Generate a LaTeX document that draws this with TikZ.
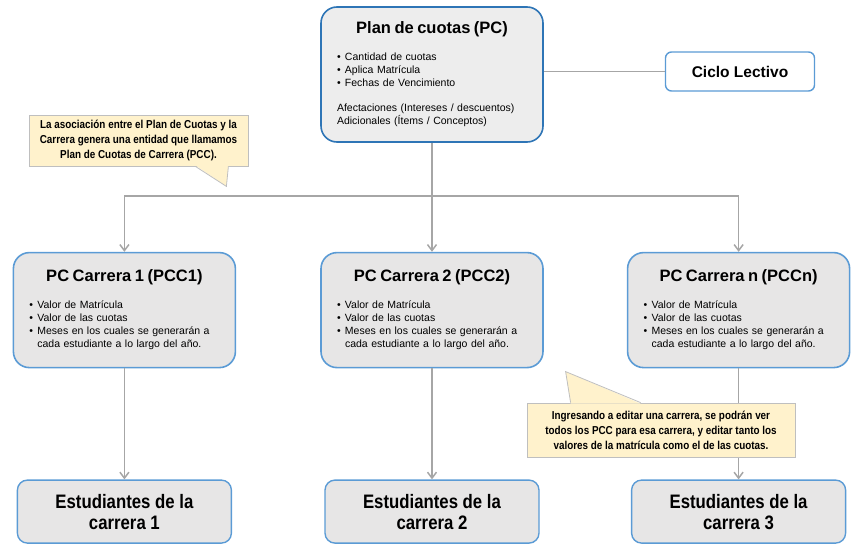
\documentclass[tikz,border=0pt]{standalone}
\usepackage{fontspec}
\setmainfont{Liberation Sans}
\newfontfamily\narrowsf[FakeStretch=0.86]{Liberation Sans}
\usepackage{tikz}
\usetikzlibrary{arrows.meta,positioning}
\definecolor{CuotaBlue}{HTML}{2E75B6}
\definecolor{CuotaLine}{HTML}{5B9BD5}
\definecolor{CuotaFill}{HTML}{EDEDED}
\definecolor{CarreraFill}{HTML}{E7E6E6}
\definecolor{NoteFill}{HTML}{FFF2CC}
\definecolor{NoteLine}{HTML}{BFBFBF}
\definecolor{LinkGray}{HTML}{A6A6A6}
\newcommand{\boxtitle}[1]{{\centering\noindent\fontsize{16.5}{19}\selectfont\bfseries #1\par}\vspace{14pt}}
\newcommand{\bitem}[1]{\par\hangindent=8pt\hangafter=1\noindent\makebox[8pt][l]{\textbullet}#1}
\newcommand{\carreraitems}{\bitem{Valor de Matrícula}\bitem{Valor de las cuotas}%
  \bitem{Meses en los cuales se generarán a\newline cada estudiante a lo largo del año.}\par}
\tikzset{
  cuotabox/.style={draw=CuotaBlue,line width=1.6pt,rounded corners=16pt,fill=CuotaFill,
    text width=190pt,inner xsep=16pt,inner ysep=0pt,align=left,
    font=\fontsize{10.5}{13}\selectfont},
  carrerabox/.style={cuotabox,draw=CuotaLine,fill=CarreraFill,minimum height=115pt},
  studentbox/.style={draw=CuotaLine,line width=1.4pt,rounded corners=10pt,fill=CarreraFill,
    minimum width=214pt,minimum height=63pt,align=center,
    font=\narrowsf\bfseries\fontsize{19.5}{21}\selectfont},
  cyclebox/.style={draw=CuotaLine,line width=1.4pt,rounded corners=6pt,fill=white,
    minimum width=149pt,minimum height=39pt,font=\bfseries\fontsize{15.5}{18}\selectfont},
  notebox/.style={draw=NoteLine,line width=0.8pt,fill=NoteFill,align=center,inner sep=0pt,
    font=\narrowsf\bfseries\fontsize{11.5}{15}\selectfont},
  link/.style={-{Straight Barb[length=6pt,width=9pt]},draw=LinkGray,line width=1.5pt},
  busline/.style={draw=LinkGray,line width=1.5pt}
}

\begin{document}
\begin{tikzpicture}
  \useasboundingbox (0,0) rectangle (864pt,-556pt);

  \node[cuotabox,minimum height=135pt] (pc) at (432pt,-74.5pt) {\boxtitle{Plan de cuotas (PC)}%
    \bitem{Cantidad de cuotas}\bitem{Aplica Matrícula}\bitem{Fechas de Vencimiento}%
    \par\vspace{12pt}\noindent Afectaciones (Intereses / descuentos)\par\noindent Adicionales (Ítems / Conceptos)};
  \node[cyclebox,right=121pt of pc,yshift=3pt] (ciclo) {Ciclo Lectivo};

  \node[carrerabox,below=109pt of pc] (pcc2) {\boxtitle{PC Carrera 2 (PCC2)}\carreraitems};
  \node[carrerabox,left=84pt of pcc2] (pcc1) {\boxtitle{PC Carrera 1 (PCC1)}\carreraitems};
  \node[carrerabox,right=83pt of pcc2] (pccn) {\boxtitle{PC Carrera n (PCCn)}\carreraitems};

  \node[studentbox,below=111pt of pcc1] (est1) {Estudiantes de la\\carrera 1};
  \node[studentbox,below=111pt of pcc2] (est2) {Estudiantes de la\\carrera 2};
  \node[studentbox,below=111pt of pccn] (est3) {Estudiantes de la\\carrera 3};

  \coordinate (bus) at (0,-196pt);
  \draw[busline] (pc.east |- ciclo) -- (ciclo);
  \draw[link] (pc) -- (pcc2);
  \draw[link] (pcc2.north |- bus) -| (pcc1);
  \draw[link] (pcc2.north |- bus) -| (pccn);
  \draw[link] (pcc1) -- (est1);
  \draw[link] (pcc2) -- (est2);
  \draw[link] (pccn) -- (est3);

  \node[notebox,minimum width=219pt,minimum height=51pt] (note1) at (138.5pt,-140.5pt)
    {La asociación entre el Plan de Cuotas y la\\Carrera genera una entidad que llamamos\\Plan de Cuotas de Carrera (PCC).};
  \coordinate (tip1) at ([shift={(-22pt,-20pt)}]note1.south east);
  \fill[NoteFill] ([xshift=-53pt,yshift=1pt]note1.south east) -- (tip1) -- ([xshift=-20pt,yshift=1pt]note1.south east) -- cycle;
  \draw[NoteLine,line width=0.8pt] ([xshift=-53pt]note1.south east) -- (tip1) -- ([xshift=-20pt]note1.south east);

  \node[notebox,minimum width=268pt,minimum height=54pt] (note2) at (661pt,-430pt)
    {Ingresando a editar una carrera, se podrán ver\\todos los PCC para esa carrera, y editar tanto los\\valores de la matrícula como el de las cuotas.};
  \coordinate (tip2) at ([shift={(39pt,31pt)}]note2.north west);
  \fill[NoteFill] ([xshift=44pt,yshift=-1pt]note2.north west) -- (tip2) -- ([xshift=114pt,yshift=-1pt]note2.north west) -- cycle;
  \draw[NoteLine,line width=0.8pt] ([xshift=44pt]note2.north west) -- (tip2) -- ([xshift=114pt]note2.north west);
\end{tikzpicture}
\end{document}
